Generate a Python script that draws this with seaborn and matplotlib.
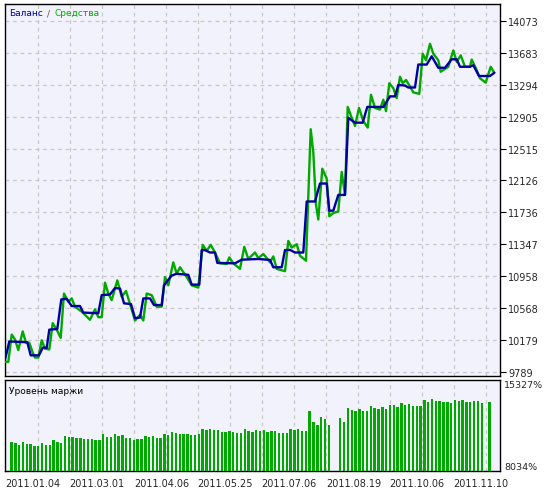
import numpy as np
import pandas as pd
import matplotlib
matplotlib.use("Agg")
import matplotlib.pyplot as plt
import seaborn as sns
from matplotlib.offsetbox import TextArea, HPacker, AnchoredOffsetbox

# ---- data ----
balance_x = [5, 6.7, 9.3, 27.3, 30.7, 39, 42.7, 46.7, 49.3, 57.3, 61.3, 66.7, 71.7, 80, 83.3, 98.3,
             101.7, 110, 115, 120, 124, 131, 135, 140, 143.3, 150, 154, 161.7, 164, 171.7, 176.7,
             188.3, 191.7, 199.3, 201.7, 205, 210, 215, 217.3, 235, 241.7, 258.3, 270, 273.3, 281.7,
             285, 290, 295, 303.3, 306.7, 315, 320, 326.7, 329.3, 333.3, 338.3, 345, 348.3, 355,
             362.7, 367.3, 383.3, 390, 395, 398.3, 405, 408.3, 415, 418.3, 426.7, 431.7, 438.3, 445,
             451.7, 456.7, 460, 470, 473.3, 479, 490, 494.3]
balance = [9945, 10026, 10162, 10153, 9993, 9993, 10086, 10086, 10306, 10314, 10675, 10682, 10594,
           10594, 10514, 10506, 10727, 10735, 10814, 10807, 10627, 10618, 10446, 10454, 10687, 10687,
           10606, 10606, 10847, 10967, 10987, 10975, 10855, 10855, 11276, 11276, 11247, 11247, 11120,
           11115, 11159, 11168, 11156, 11067, 11067, 11276, 11279, 11247, 11247, 11869, 11869, 12088,
           12088, 11757, 11757, 11949, 11949, 12890, 12830, 12830, 13022, 13022, 13151, 13151, 13290,
           13283, 13259, 13259, 13539, 13539, 13639, 13500, 13500, 13603, 13603, 13512, 13512, 13531,
           13399, 13399, 13439]

equity_x = [5, 8.3, 11.7, 15, 18.3, 22.7, 26, 29.3, 32.7, 35, 38.3, 41.7, 45, 49.3, 52.7, 56.7,
            60.7, 64, 68.3, 71.7, 75, 81.7, 90, 95, 98.3, 101.7, 105, 108.3, 111.7, 117.3, 121.7,
            126, 130, 135, 140, 143.3, 146.7, 151.7, 156.7, 161.7, 165, 168.3, 173.3, 176.7, 180,
            186.7, 191.7, 198.3, 202.7, 206.7, 210.7, 215, 220, 226.7, 229.3, 233.3, 240, 244.3,
            248.3, 255, 258.3, 263.3, 266.7, 270, 273.3, 276.7, 285, 288.3, 291.7, 296.7, 300, 306,
            310.7, 313.3, 316, 318.3, 322.3, 326.7, 329.3, 333.3, 338.3, 341.7, 345, 347.7, 351.7,
            355, 359, 363.3, 367.7, 371, 375, 380, 383.3, 386, 389.3, 393.3, 396.7, 400, 402.7, 406,
            410, 413.3, 419.3, 422.7, 426, 430, 433.3, 438.3, 440.7, 448.3, 453.3, 456.7, 460.7,
            465, 470, 471.7, 476.7, 480, 485.7, 490.7, 494.3]
equity = [9913, 9913, 10246, 10186, 10057, 10285, 10146, 10146, 10026, 9966, 9966, 10177, 10074,
          10065, 10386, 10306, 10206, 10747, 10646, 10687, 10586, 10526, 10426, 10555, 10458, 10458,
          10879, 10747, 10666, 10907, 10706, 10778, 10618, 10418, 10486, 10418, 10747, 10727, 10586,
          10586, 10947, 10847, 11127, 10987, 11067, 10947, 10847, 10819, 11340, 11267, 11340, 11247,
          11115, 11108, 11187, 11115, 11047, 11316, 11168, 11247, 11180, 11228, 11180, 11127, 11199,
          11047, 11019, 11388, 11307, 11348, 11207, 11147, 12750, 12469, 11829, 11649, 12269, 12149,
          11688, 11728, 11748, 12229, 11949, 13022, 12890, 12790, 13010, 12850, 12770, 13170, 13010,
          12990, 13110, 12970, 13311, 13251, 13131, 13391, 13311, 13351, 13271, 13199, 13182, 13671,
          13591, 13792, 13671, 13591, 13451, 13512, 13711, 13572, 13651, 13512, 13512, 13600, 13471,
          13371, 13319, 13512, 13439]

margin = ([10366, 10259, 10125, 10366, 10179, 10179, 10045, 10045, 10259, 10125, 10125, 10527,
           10366, 10259, 10849, 10742, 10742, 10661, 10661, 10581, 10581, 10581, 10527, 10527,
           10983, 10742, 10742, 10983, 10849, 10903, 10661, 10661, 10527, 10581, 10581, 10849,
           10796, 10849, 10661, 10661, 10983, 10903, 11171, 11117, 10983, 10983, 10983, 10903,
           10903, 10983, 11385, 11305, 11385, 11305, 11305, 11171, 11171, 11251, 11171, 11117,
           11117, 11385, 11251, 11171, 11305, 11251, 11305, 11171, 11251, 11251, 11117, 11117,
           11117, 11439, 11305, 11385, 11251, 11251, 12860, 11975, 11734, 12324, 12190, 11734,
           np.nan, np.nan,
           12270, 11975, 13047, 12913, 12860, 12994, 12806, 12860, 13262, 13074, 12994, 13128,
           12994, 13316, 13316, 13128, 13450, 13316, 13396, 13262, 13262, 13262, 13718, 13584,
           13799, 13611, 13665, 13530, 13584, 13477, 13718, 13665, 13718, 13530, 13530, 13611,
           13611, 13450, np.nan, 13584])

date_labels = ["2011.01.04", "2011.03.01", "2011.04.06", "2011.05.25",
               "2011.07.06", "2011.08.19", "2011.10.06", "2011.11.10"]
price_ticks = [9789, 10179, 10568, 10958, 11347, 11736, 12126, 12515, 12905, 13294, 13683, 14073]
margin_ticks = [8034, 15327]

# ---- style ----
sns.set_style("white")
plt.rcParams['font.family'] = ['DejaVu Sans']
BG = "#F2F2FC"
GRID = "#C8C8C8"
GREEN = "#00A800"
BLUE = "#0000A0"

W, H = 545, 489
fig = plt.figure(figsize=(W / 100, H / 100), dpi=100)
fig.patch.set_facecolor("white")

def box(l, t, r, b):
    return [l / W, 1 - b / H, (r - l) / W, (b - t) / H]

ax = fig.add_axes(box(5, 5, 500, 377))
axb = fig.add_axes(box(5, 381, 500, 472))

for a in (ax, axb):
    a.set_facecolor(BG)
    for s in a.spines.values():
        s.set_color("black")
        s.set_linewidth(1.0)
    for gx in np.arange(37.5, 500, 32):
        a.axvline(gx, color=GRID, ls=(0, (3, 3)), lw=0.9, zorder=0)

# main panel
eq = pd.DataFrame({"x": equity_x, "v": equity})
bal = pd.DataFrame({"x": balance_x, "v": balance})
sns.lineplot(data=eq, x="x", y="v", ax=ax, color=GREEN, lw=1.7, sort=False, estimator=None, zorder=3)
sns.lineplot(data=bal, x="x", y="v", ax=ax, color=BLUE, lw=1.7, sort=False, estimator=None, zorder=4)
ymin = 9789 - 4 * 389.4 / 32.4
ymax = 14073 + 17 * 389.4 / 32.4
ax.set_xlim(5, 500)
ax.set_ylim(ymin, ymax)
for t in price_ticks:
    ax.axhline(t, color=GRID, ls=(0, (3, 3)), lw=0.9, zorder=0)
ax.yaxis.tick_right()
ax.set_yticks(price_ticks)
ax.set_yticklabels([str(t) for t in price_ticks])
ax.set_xticks([])
ax.tick_params(axis="y", length=4, width=0.8, labelsize=7, pad=2, color="black", direction="out")
ax.set_xlabel("")
ax.set_ylabel("")

tp = dict(fontsize=6.5)
title = HPacker(children=[TextArea("Баланс", textprops=dict(color=BLUE, **tp)),
                          TextArea("/", textprops=dict(color="#555555", **tp)),
                          TextArea("Средства", textprops=dict(color=GREEN, **tp))],
                align="baseline", pad=0, sep=3)
ab = AnchoredOffsetbox(loc="upper left", child=title, pad=0, borderpad=0.3, frameon=False,
                       bbox_to_anchor=(0.0, 1.0), bbox_transform=ax.transAxes)
ax.add_artist(ab)

# margin panel
bx = 11.5 + 3.823 * np.arange(len(margin))
mv = np.array(margin, dtype=float)
ok = ~np.isnan(mv)
axb.bar(bx[ok], mv[ok] - 8034, bottom=8034, width=2.4, color=GREEN, linewidth=0,
        antialiased=False, zorder=3)
axb.set_xlim(5, 500)
axb.set_ylim(8034, 15327)
axb.yaxis.tick_right()
axb.set_yticks(margin_ticks)
axb.set_yticklabels([f"{t}%" for t in margin_ticks])
labs = axb.get_yticklabels()
labs[0].set_va("bottom")
labs[1].set_va("top")
axb.tick_params(axis="y", length=0, labelsize=6.8, pad=3)
tick_px = [5.6, 69.5, 134, 197, 261, 326, 389, 453]
axb.set_xticks(tick_px)
axb.set_xticklabels(date_labels, ha="left")
axb.tick_params(axis="x", length=4, width=0.8, labelsize=7, pad=1, direction="out")
axb.text(0.008, 0.93, "Уровень маржи", transform=axb.transAxes, fontsize=6.5, va="top", color="black")

fig.savefig("out.png", dpi=100, facecolor="white")
